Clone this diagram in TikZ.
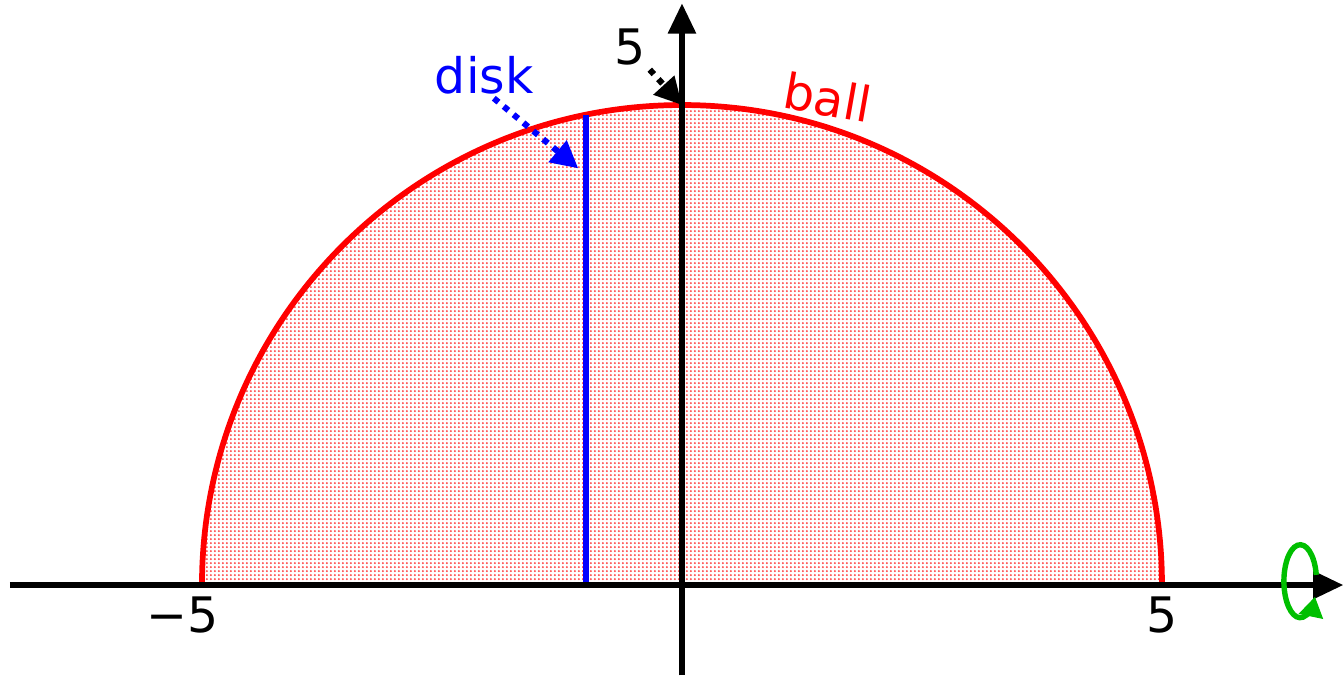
\documentclass[tikz,border=0pt]{standalone}
\usepackage{fontspec}
\setmainfont{DejaVu Sans}
\usetikzlibrary{arrows.meta, patterns, positioning}
\pgfdeclarepatternformonly{finedots}{\pgfpointorigin}{\pgfqpoint{1.3pt}{1.3pt}}{\pgfqpoint{1.3pt}{1.3pt}}{
    \pgfpathcircle{\pgfqpoint{0.65pt}{0.65pt}}{0.38pt}
    \pgfusepath{fill}
}
\tikzset{
    axis/.style={line width=1.8pt, black, -{Triangle[length=9pt, width=8pt]}},
    ballfill/.style={pattern=finedots, pattern color=red!70},
    ballline/.style={line width=1.7pt, red},
    diskline/.style={line width=1.6pt, blue},
    label/.style={font=\fontsize{14.5}{16}\selectfont, inner sep=1pt},
    pointer/.style={line width=1.8pt, dotted, -{Triangle[length=8pt, width=8pt]}},
    spin/.style={line width=1.6pt, green!75!black, -{Triangle[length=6pt, width=7pt]}}
}

\begin{document}
\begin{tikzpicture}
    \useasboundingbox (-7.104,-0.948) rectangle (6.896,6.094);
    % half ball
    \fill[ballfill] (-5,0) arc (180:0:5) -- cycle;
    \draw[ballline] (-5,0) arc (180:0:5);
    % the disk
    \coordinate (diskbot) at (-1,0);
    \coordinate (disktop) at (-1,4.899);
    \draw[diskline] (diskbot) -- (disktop);
    % axes
    \coordinate (xstart) at (-7.0,0);
    \coordinate (xend) at (6.89,0);
    \coordinate (ystart) at (0,-0.94);
    \coordinate (yend) at (0,6.06);
    \draw[axis] (xstart) -- (xend);
    \draw[axis] (ystart) -- (yend);
    % labels
    \node[label] (minusfive) at (-5.2,-0.31) {−5};
    \node[label] (plusfive) at (5.0,-0.31) {5};
    \node[label] (topfive) at (-0.54,5.6) {5};
    \node[label, text=blue] (disk) at (-2.06,5.31) {disk};
    \node[label, text=red, rotate=-10] (ball) at (1.52,5.08) {ball};
    \coordinate (ytop) at (0,5);
    \coordinate (diskpt) at (-1.08,4.34);
    \draw[pointer] (topfive.south east) -- (ytop);
    \draw[pointer, blue] (disk.south) ++(0.1,0) -- (diskpt);
    % rotation
    \coordinate (spinc) at (6.44,0.04);
    \draw[spin] ([shift={(10:0.17 and 0.38)}]spinc) arc (10:335:0.17 and 0.38);
\end{tikzpicture}
\end{document}
